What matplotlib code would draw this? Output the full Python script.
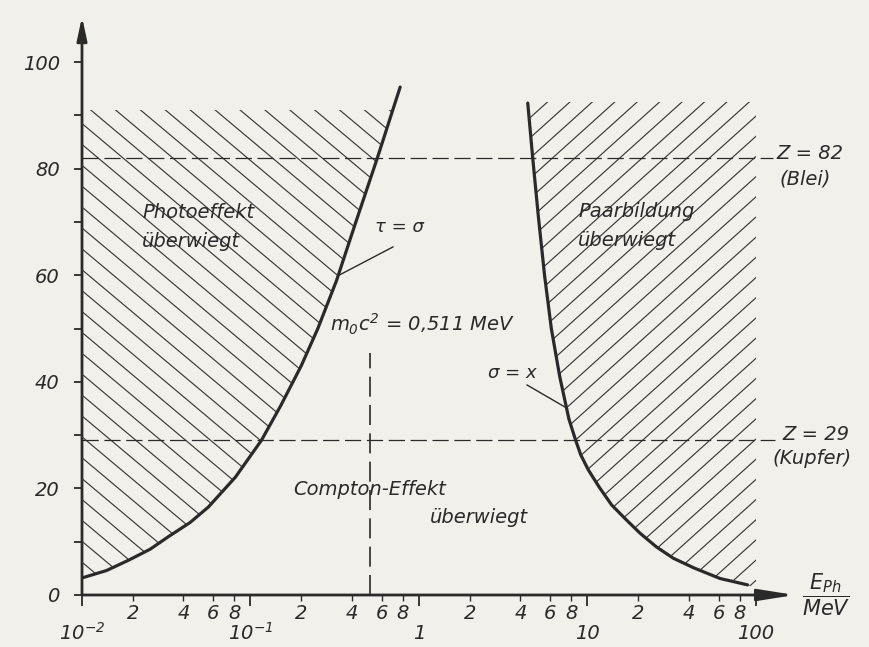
import numpy as np
import matplotlib
matplotlib.use("Agg")
import matplotlib.pyplot as plt
from matplotlib.collections import LineCollection
from matplotlib.transforms import IdentityTransform, Bbox, TransformedBbox
from matplotlib.patches import Polygon, FancyArrowPatch
from matplotlib.ticker import FixedLocator, FuncFormatter

# ---------------- data ----------------
# boundary tau = sigma (photo effect / Compton)
photo_E = [0.0100, 0.0140, 0.0191, 0.0254, 0.0324, 0.0438, 0.0562, 0.0813,
           0.116, 0.151, 0.200, 0.251, 0.324, 0.417, 0.566, 0.773]
photo_Z = [3.2, 4.6, 6.6, 8.6, 10.9, 13.6, 16.5, 22.1, 29.0, 35.5, 43.0,
           50.0, 59.0, 69.5, 82.0, 95.3]
# boundary sigma = x (Compton / pair production)
pair_E = [4.42, 4.73, 5.11, 5.56, 6.10, 6.84, 7.76, 8.51, 9.12, 10.1, 11.7,
          13.9, 17.0, 20.5, 25.7, 32.3, 42.7, 61.1, 89.1]
pair_Z = [92.3, 82.0, 71.0, 60.0, 50.0, 41.0, 33.0, 29.0, 26.3, 23.5, 20.3,
          16.9, 14.1, 11.6, 9.0, 6.9, 5.1, 3.1, 1.9]

Z_lines = [82, 29]                 # Blei, Kupfer
Z_texts = ["Z = 82", "Z = 29"]
Z_names = ["(Blei)", "(Kupfer)"]
rest_energy = 0.511                # MeV

y_ticks = list(range(0, 101, 10))
y_labels = ["0", "", "20", "", "40", "", "60", "", "80", "", "100"]
x_major = [0.01, 0.1, 1, 10, 100]
x_major_labels = [r"$10^{-2}$", r"$10^{-1}$", "1", "10", "100"]
x_minor_subs = [2, 4, 6, 8]

# ---------------- style ----------------
INK = "#2a2a2a"
PAPER = "#f2f0eb"
plt.rcParams["font.family"] = ["DejaVu Sans"]
plt.rcParams["font.style"] = "italic"
plt.rcParams["mathtext.fontset"] = "custom"
plt.rcParams["mathtext.rm"] = "DejaVu Sans:italic"
plt.rcParams["mathtext.it"] = "DejaVu Sans:italic"
plt.rcParams["mathtext.bf"] = "DejaVu Sans:italic:bold"
plt.rcParams["text.color"] = INK

W, H = 870, 647
fig = plt.figure(figsize=(W / 100, H / 100), dpi=100, facecolor=PAPER)
ax = fig.add_axes([82 / W, 52 / H, 707.7 / W, 575.6 / H])
ax.set_facecolor("none")
ax.set_xscale("log")
ax.set_xlim(0.01, 10 ** 2.2)
ax.set_ylim(0, 108)
for s in ax.spines.values():
    s.set_visible(False)

# ticks
ax.yaxis.set_major_locator(FixedLocator(y_ticks))
ax.yaxis.set_major_formatter(FuncFormatter(
    lambda v, p: y_labels[y_ticks.index(int(round(v)))] if int(round(v)) in y_ticks else ""))
ax.tick_params(axis="y", which="major", direction="out", length=6, width=1.3,
               color=INK, labelsize=14, labelcolor=INK, pad=10)
ax.xaxis.set_major_locator(FixedLocator(x_major))
ax.xaxis.set_major_formatter(FuncFormatter(
    lambda v, p: x_major_labels[p] if p is not None and p < len(x_major_labels) else ""))
minor_pos = [s * d for d in x_major[:-1] for s in x_minor_subs]
ax.xaxis.set_minor_locator(FixedLocator(minor_pos))
ax.xaxis.set_minor_formatter(FuncFormatter(
    lambda v, p: "%d" % round(v / 10 ** np.floor(np.log10(v) + 1e-9))))
ax.tick_params(axis="x", which="major", direction="out", length=8, width=1.3,
               color=INK, labelsize=14, labelcolor=INK, pad=24)
ax.tick_params(axis="x", which="minor", direction="out", length=4, width=1.0,
               color=INK, labelsize=14, labelcolor=INK, pad=13)
for lab in ax.xaxis.get_majorticklabels() + ax.xaxis.get_minorticklabels():
    lab.set_va("baseline")

# axes with arrows
ax.add_patch(FancyArrowPatch((0.01, 0), (10 ** 2.23, 0), transform=ax.transData,
                             arrowstyle="-|>,head_length=2.2,head_width=0.35",
                             mutation_scale=10, lw=2.0, color=INK, clip_on=False,
                             shrinkA=0, shrinkB=0))
ax.add_patch(FancyArrowPatch((0.01, 0), (0.01, 108.5), transform=ax.transData,
                             arrowstyle="-|>,head_length=1.4,head_width=0.3",
                             mutation_scale=10, lw=2.0, color=INK, clip_on=False,
                             shrinkA=0, shrinkB=0))

# hatching helper (lines in pixel space, clipped to the region)
def hatch(poly_xy, lo, hi, angle_deg, spacing):
    th = np.deg2rad(angle_deg)
    d = np.array([np.cos(th), np.sin(th)])
    n = np.array([-np.sin(th), np.cos(th)])
    L = np.hypot(W, H) * 1.5
    segs = [[k * spacing * n - L * d, k * spacing * n + L * d]
            for k in np.arange(-L / spacing, L / spacing + 1)]
    lc = LineCollection(segs, colors="#3a3a3a", linewidths=0.85,
                        transform=IdentityTransform())
    ax.add_collection(lc, autolim=False)
    patch = Polygon(poly_xy, closed=True, transform=ax.transData)
    lc.set_clip_path(patch)
    lc.set_clip_box(TransformedBbox(Bbox([lo, hi]), ax.transData))

left_poly = list(zip(photo_E, photo_Z)) + [(photo_E[-1], 110), (photo_E[0], 110)]
hatch(left_poly, (0.01, 0), (1.0, 91), -40, 16)
right_poly = [(pair_E[0], 110)] + list(zip(pair_E, pair_Z)) + [(100, 1.0), (100, 110)]
hatch(right_poly, (1.0, 0), (100, 92.5), 42, 15)

# boundary curves
ax.plot(photo_E, photo_Z, color=INK, lw=2.3, solid_capstyle="round",
        solid_joinstyle="round", zorder=5)
ax.plot(pair_E, pair_Z, color=INK, lw=2.3, solid_capstyle="round",
        solid_joinstyle="round", zorder=5)

# dashed reference lines
ax.plot([0.01, 126], [Z_lines[0]] * 2, color=INK, lw=0.9, ls=(0, (13, 4.5)), clip_on=False)
ax.plot([0.01, 130], [Z_lines[1]] * 2, color=INK, lw=0.9, ls=(0, (13, 4.5)), clip_on=False)
ax.plot([rest_energy, rest_energy], [0, 45.4], color=INK, lw=1.2, ls=(0, (12, 5)))

FS = 14
ax.text(133, 81.9, Z_texts[0], fontsize=FS, ha="left", va="baseline", clip_on=False)
ax.text(138, 77.0, Z_names[0], fontsize=FS, ha="left", va="baseline", clip_on=False)
ax.text(143, 29.1, Z_texts[1], fontsize=FS, ha="left", va="baseline", clip_on=False)
ax.text(126, 24.6, Z_names[1], fontsize=FS, ha="left", va="baseline", clip_on=False)

ax.text(0.0227, 70.7, "Photoeffekt", fontsize=FS, ha="left", va="baseline")
ax.text(0.0227, 65.3, "überwiegt", fontsize=FS, ha="left", va="baseline")
ax.text(8.8, 70.9, "Paarbildung", fontsize=FS, ha="left", va="baseline")
ax.text(8.8, 65.4, "überwiegt", fontsize=FS, ha="left", va="baseline")
ax.text(0.179, 18.8, "Compton-Effekt", fontsize=FS, ha="left", va="baseline")
ax.text(1.16, 13.5, "überwiegt", fontsize=FS, ha="left", va="baseline")

ax.text(0.548, 68.1, "τ = σ", fontsize=13, ha="left", va="baseline")
ax.plot([0.70, 0.335], [65.3, 60.0], color=INK, lw=1.0)
ax.text(5.0, 40.7, "σ = x", fontsize=13, ha="right", va="baseline")
ax.plot([4.38, 7.6], [39.4, 35.0], color=INK, lw=1.0)

ax.text(0.296, 49.5, r"$m_0c^2$ = 0,511 MeV", fontsize=FS, ha="left", va="baseline")

ax.set_xlabel(r"$\dfrac{E_{Ph}}{MeV}$", fontsize=15, color=INK)
ax.xaxis.set_label_coords(1.051, 0.0)
ax.xaxis.label.set_va("center")

fig.savefig("out.png", dpi=100, facecolor=PAPER)
